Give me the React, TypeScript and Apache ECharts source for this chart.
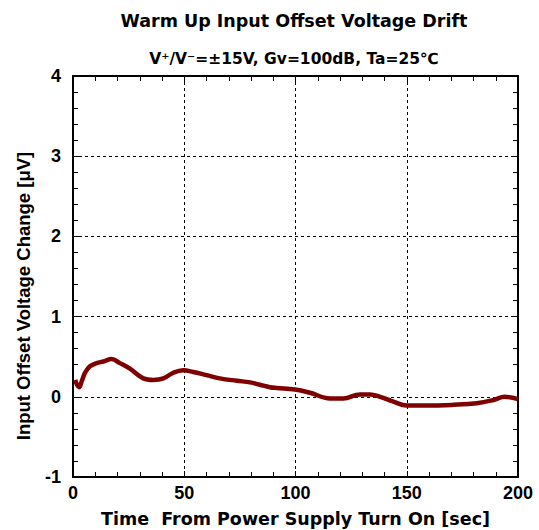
import React, { useEffect, useRef } from "react";
import * as echarts from "echarts";

const timeSec = [1, 1.8, 2.7, 4, 5.4, 7.6, 10.6, 13.6, 17.4, 21.1, 25.6, 31.6, 36.1, 40.6, 45.1, 49.6, 54, 60, 66, 73.6, 79.6, 84, 88.5, 91.5, 99.8, 106.5, 115.5, 121.5, 129, 133.5, 138, 144, 150, 159, 171, 181.4, 189, 194, 200];
const offsetUV = [0.21, 0.15, 0.12, 0.2, 0.3, 0.38, 0.42, 0.44, 0.47, 0.42, 0.35, 0.23, 0.21, 0.23, 0.3, 0.33, 0.31, 0.27, 0.23, 0.2, 0.18, 0.15, 0.12, 0.11, 0.09, 0.05, -0.02, -0.02, 0.03, 0.03, 0.0, -0.06, -0.11, -0.11, -0.1, -0.08, -0.04, 0.0, -0.03];
const xTicks = { min: 0, max: 200, interval: 50 };
const yTicks = { min: -1, max: 4, interval: 1 };

const titleText = "Warm Up Input Offset Voltage Drift";
const subtitleText = "V\u207A/V\u207B=\u00B115V, Gv=100dB, Ta=25\u2103";
const xName = "Time  From Power Supply Turn On [sec]";
const yName = "Input Offset Voltage Change [\u03BCV]";

export default function App() {
  const ref = useRef<HTMLDivElement>(null);
  useEffect(() => {
    if (!ref.current) return;
    const chart = echarts.init(ref.current, null, { renderer: "svg" });
    const font = "'Liberation Sans', Arial, sans-serif";
    const wide = "'DejaVu Sans', 'Liberation Sans', sans-serif";
    const mirror = (axisType: "x" | "y", pos: string) => ({
      type: "value",
      position: pos,
      min: axisType === "x" ? xTicks.min : yTicks.min,
      max: axisType === "x" ? xTicks.max : yTicks.max,
      interval: axisType === "x" ? xTicks.interval : yTicks.interval,
      axisLine: { show: true, onZero: false, lineStyle: { color: "#000", width: 2 } },
      axisTick: { show: true, inside: true, length: 6, lineStyle: { color: "#000" } },
      minorTick: { show: true, splitNumber: 5, length: 5, lineStyle: { color: "#000" } },
      axisLabel: { show: false },
      splitLine: { show: false },
    });
    chart.setOption({
      animation: false,
      backgroundColor: "#fff",
      title: [
        {
          text: titleText,
          left: 289,
          top: 7,
          textAlign: "center",
          textStyle: { fontFamily: wide, fontWeight: "bold", fontSize: 17.5, color: "#000" },
        },
        {
          text: subtitleText,
          left: 289,
          top: 46,
          textAlign: "center",
          textStyle: { fontFamily: wide, fontWeight: "bold", fontSize: 15.5, color: "#000" },
        },
      ],
      graphic: [
        {
          type: "text",
          x: 23,
          y: 296,
          rotation: Math.PI / 2,
          style: {
            text: yName,
            fontFamily: font,
            fontWeight: "bold",
            fontSize: 18.5,
            fill: "#000",
            align: "center",
            verticalAlign: "middle",
          },
        },
      ],
      grid: { left: 73, right: 21, top: 76, bottom: 53, containLabel: false, outerBoundsMode: "none" },
      xAxis: [
        {
          type: "value",
          position: "bottom",
          min: xTicks.min,
          max: xTicks.max,
          interval: xTicks.interval,
          name: xName,
          nameLocation: "middle",
          nameGap: 33,
          nameTextStyle: { fontFamily: wide, fontWeight: "bold", fontSize: 17.5, color: "#000" },
          axisLine: { show: true, onZero: false, lineStyle: { color: "#000", width: 2 } },
          axisTick: { show: true, inside: true, length: 6, lineStyle: { color: "#000" } },
          minorTick: { show: true, splitNumber: 5, length: 5, lineStyle: { color: "#000" } },
          axisLabel: { fontFamily: font, fontWeight: "bold", fontSize: 18, color: "#000", margin: 7 },
          splitLine: { show: true, lineStyle: { color: "#000", type: [3, 3], width: 1 } },
        },
        mirror("x", "top"),
      ],
      yAxis: [
        {
          type: "value",
          position: "left",
          min: yTicks.min,
          max: yTicks.max,
          interval: yTicks.interval,
          axisLine: { show: true, onZero: false, lineStyle: { color: "#000", width: 2 } },
          axisTick: { show: true, inside: true, length: 6, lineStyle: { color: "#000" } },
          minorTick: { show: true, splitNumber: 5, length: 5, lineStyle: { color: "#000" } },
          axisLabel: { fontFamily: font, fontWeight: "bold", fontSize: 18, color: "#000", margin: 12 },
          splitLine: { show: true, lineStyle: { color: "#000", type: [3, 3], width: 1 } },
        },
        mirror("y", "right"),
      ],
      series: [
        {
          type: "line",
          data: timeSec.map((t, i) => [t, offsetUV[i]]),
          smooth: 0.4,
          showSymbol: false,
          lineStyle: { color: "#7f0000", width: 4.5 },
        },
      ],
    });
    return () => chart.dispose();
  }, []);
  return <div ref={ref} style={{ width: 539, height: 530, position: "absolute", left: 0, top: 0 }} />;
}
